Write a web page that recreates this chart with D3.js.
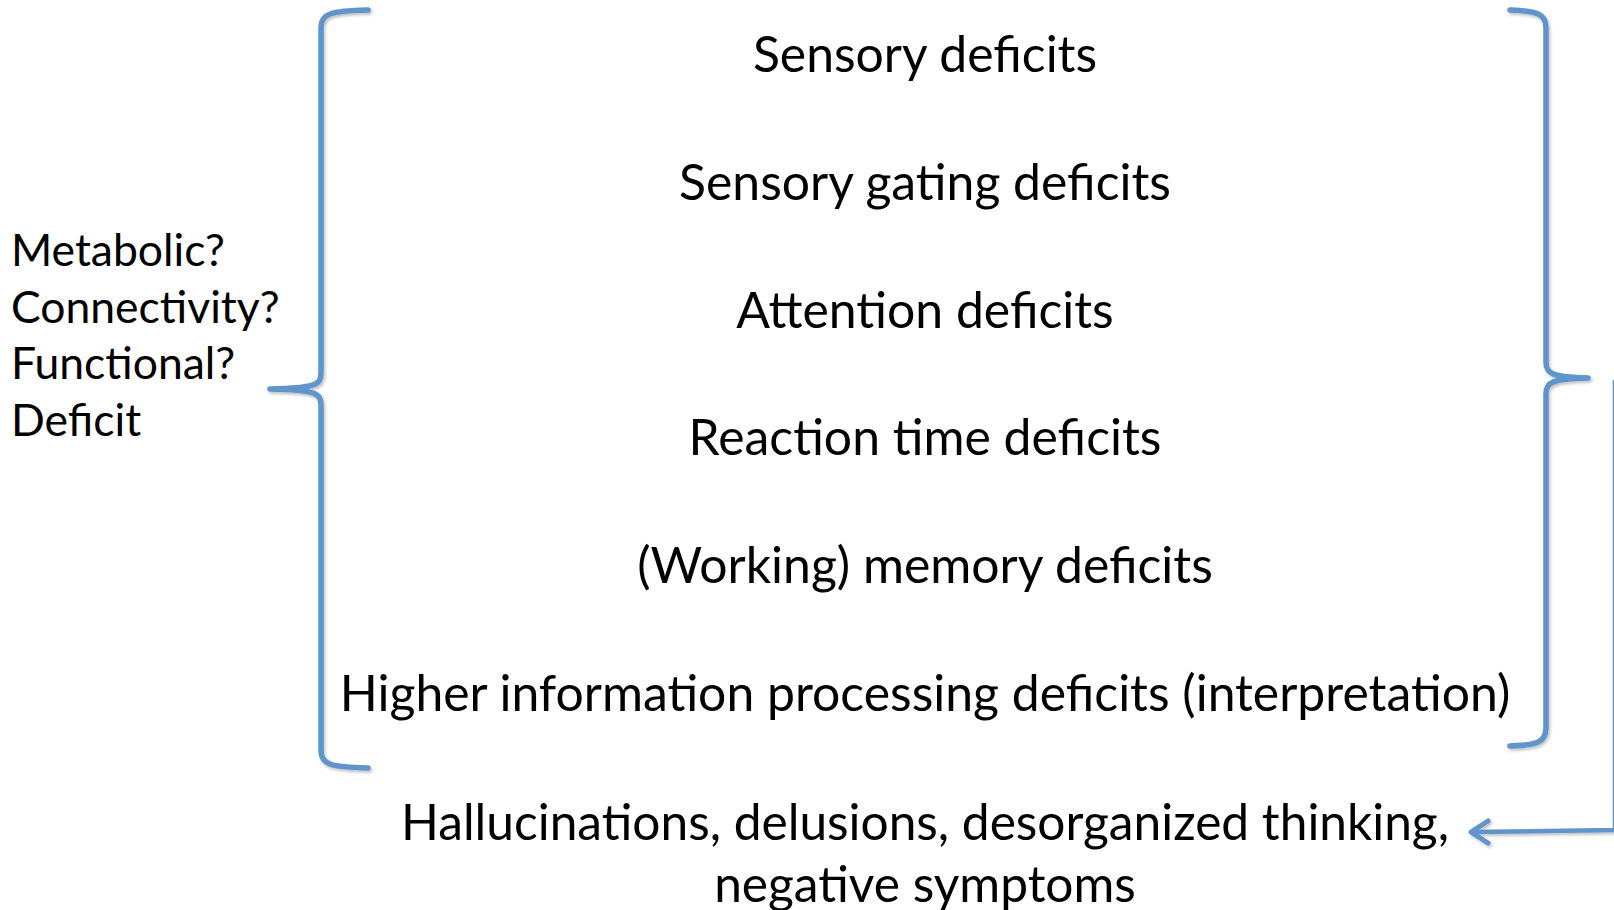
<!DOCTYPE html>
<html lang="en">
<head>
	<meta charset="utf-8">
	<title>Deficits diagram</title>
	<script src="https://d3js.org/d3.v7.min.js"></script>
	<style>
		body { margin: 0; background: #fff; }
		text { font-family: Lato, "Open Sans", sans-serif; fill: #000; }
	</style>
</head>
<body>
	<div id="chart"></div>
<script type="text/javascript">
	var w = 1614;
	var h = 910;

	var deficits = [
		"Sensory deficits",
		"Sensory gating deficits",
		"Attention deficits",
		"Reaction time deficits",
		"(Working) memory deficits",
		"Higher information processing deficits (interpretation)"
	];
	var causes = ["Metabolic?", "Connectivity?", "Functional?", "Deficit"];
	var outcome = ["Hallucinations, delusions, desorganized thinking,", "negative symptoms"];

	var blue = "#5f95ca";

	var svg = d3.select("#chart")
		.append("svg")
		.attr("width", w)
		.attr("height", h);

	var defs = svg.append("defs");
	var f = defs.append("filter").attr("id", "shadow").attr("x", "-20%").attr("y", "-5%").attr("width", "140%").attr("height", "110%");
	f.append("feDropShadow").attr("dx", 1.5).attr("dy", 2).attr("stdDeviation", 1.5).attr("flood-color", "#000").attr("flood-opacity", 0.25);

	// scales for the rows
	var yDef = d3.scaleLinear().domain([0, deficits.length - 1]).range([72, 711]);
	var yCause = d3.scaleLinear().domain([0, causes.length - 1]).range([266, 436]);
	var yOut = d3.scaleLinear().domain([0, outcome.length - 1]).range([840, 902]);
	var cx = 925;

	// fit a font size so a reference line gets the target width
	function fitSize(str, target) {
		var t = svg.append("text").attr("font-size", 50).text(str);
		var len = t.node().getComputedTextLength();
		t.remove();
		return 50 * target / len;
	}

	var defSize = fitSize(deficits[5], 1171);
	var outSize = fitSize(outcome[0], 1048);
	var causeSize = fitSize(causes[0], 214);

	svg.selectAll("text.def")
		.data(deficits)
		.enter()
		.append("text")
		.attr("class", "def")
		.attr("x", cx)
		.attr("y", function(d, i) { return yDef(i); })
		.attr("text-anchor", "middle")
		.attr("font-size", defSize)
		.text(function(d) { return d; });

	svg.selectAll("text.cause")
		.data(causes)
		.enter()
		.append("text")
		.attr("class", "cause")
		.attr("x", 11)
		.attr("y", function(d, i) { return yCause(i); })
		.attr("font-size", causeSize)
		.text(function(d) { return d; });

	svg.selectAll("text.out")
		.data(outcome)
		.enter()
		.append("text")
		.attr("class", "out")
		.attr("x", cx)
		.attr("y", function(d, i) { return yOut(i); })
		.attr("text-anchor", "middle")
		.attr("font-size", outSize)
		.text(function(d) { return d; });

	// curly brace: ends at xe, spine at xs, tip at xt
	function brace(xe, xs, xt, y0, ym, y1) {
		var s = xe > xs ? 1 : -1;
		var p = d3.path();
		p.moveTo(xe, y0);
		p.bezierCurveTo(xs + s * 10, y0 + 1, xs, y0 + 3, xs, y0 + 18);
		p.lineTo(xs, ym - 16);
		p.bezierCurveTo(xs, ym - 4, xs - s * 6, ym - 1, xt, ym);
		p.moveTo(xt, ym);
		p.bezierCurveTo(xs - s * 6, ym + 1, xs, ym + 4, xs, ym + 16);
		p.lineTo(xs, y1 - 18);
		p.bezierCurveTo(xs, y1 - 3, xs + s * 10, y1 - 1, xe, y1);
		return p.toString();
	}

	var g = svg.append("g").attr("filter", "url(#shadow)");

	g.append("path")
		.attr("d", brace(368, 321, 270, 10, 389, 768))
		.attr("fill", "none")
		.attr("stroke", blue)
		.attr("stroke-width", 5.5)
		.attr("stroke-linecap", "round");

	g.append("path")
		.attr("d", brace(1510, 1546, 1588, 10, 378, 746))
		.attr("fill", "none")
		.attr("stroke", blue)
		.attr("stroke-width", 5.5)
		.attr("stroke-linecap", "round");

	// connector from right side down to the outcome text
	g.append("path")
		.attr("d", "M1615,380 L1615,830 L1472,832")
		.attr("fill", "none")
		.attr("stroke", blue)
		.attr("stroke-width", 4.5)
		.attr("stroke-linejoin", "round");

	g.append("path")
		.attr("d", "M1488,821 L1471,832 L1488,843")
		.attr("fill", "none")
		.attr("stroke", blue)
		.attr("stroke-width", 5)
		.attr("stroke-linecap", "round")
		.attr("stroke-linejoin", "round");
</script>
</body>
</html>
